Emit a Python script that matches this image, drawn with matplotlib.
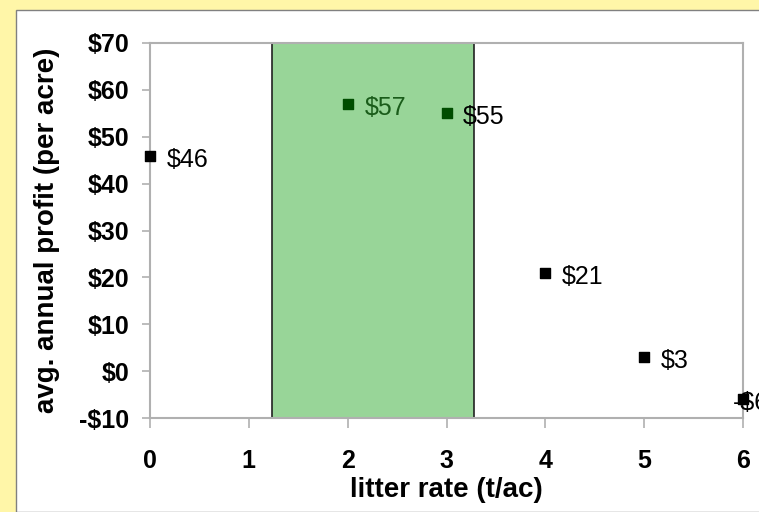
import matplotlib.pyplot as plt
from matplotlib.patches import Rectangle

plt.rcParams['font.family'] = ['Liberation Sans', 'DejaVu Sans']

rate = [0, 2, 3, 4, 5, 6]
profit = [46, 57, 55, 21, 3, -6]
labels = ['$46', '$57', '$55', '$21', '$3', '-$6']
colors = ['black', '#004d00', '#004d00', 'black', 'black', 'black']
label_colors = ['black', '#1a5c1a', 'black', 'black', 'black', 'black']
yticks = [-10, 0, 10, 20, 30, 40, 50, 60, 70]
best_range = (1.23, 3.28)

fig = plt.figure(figsize=(7.59, 5.12), dpi=100)
fig.patch.set_facecolor('#fff6a8')

# white panel behind the chart
panel = Rectangle((16 / 759, 0), 1, 1 - 10 / 512, transform=fig.transFigure,
                  facecolor='white', edgecolor='#808080', linewidth=1, zorder=-10)
fig.patches.append(panel)

ax = fig.add_axes([150 / 759, 1 - 418 / 512, (743 - 150) / 759, (418 - 43) / 512])
ax.set_facecolor('none')

ax.add_patch(Rectangle((best_range[0], -10), best_range[1] - best_range[0], 80,
                       facecolor='#98d598', edgecolor='#222222', linewidth=1.2, zorder=1))

for x, y, lab, c, lc in zip(rate, profit, labels, colors, label_colors):
    ax.scatter(x, y, marker='s', s=55, color=c, zorder=3, clip_on=False)
    dx = -7 if x == 6 else 12
    ax.annotate(lab, (x, y), xytext=(dx, -3), textcoords='offset points',
                fontsize=18, color=lc, va='center', ha='left', zorder=4,
                annotation_clip=False)

ax.set_xlim(0, 6)
ax.set_ylim(-10, 70)
ax.set_xticks(range(7))
ax.set_yticks(yticks)
ax.set_yticklabels([f'-${-v}' if v < 0 else f'${v}' for v in yticks])

for s in ax.spines.values():
    s.set_color('#b0b0b0')
    s.set_linewidth(1.5)

ax.tick_params(axis='both', colors='#b0b0b0', labelcolor='black',
               width=1.2, labelsize=18)
ax.tick_params(axis='x', length=7, pad=15)
ax.tick_params(axis='y', length=6, pad=9)
for t in ax.get_xticklabels() + ax.get_yticklabels():
    t.set_fontweight('bold')

ax.set_xlabel('litter rate (t/ac)', fontsize=20, fontweight='bold', labelpad=3)
ax.set_ylabel('avg. annual profit (per acre)', fontsize=20, fontweight='bold', labelpad=14)

plt.savefig('out.png', dpi=100)
